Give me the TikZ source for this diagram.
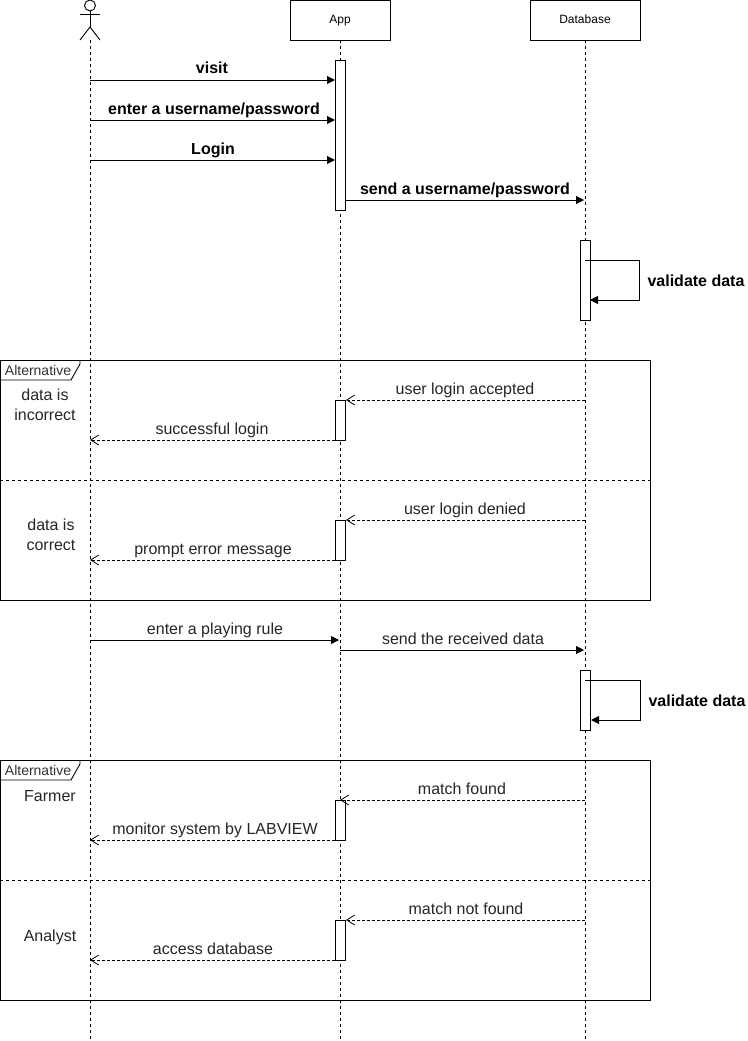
\documentclass[tikz,border=0pt]{standalone}
\usepackage{fontspec}
\setmainfont{Liberation Sans}
\usetikzlibrary{arrows.meta}
\tikzset{
  every path/.style={line width=0.9pt},
  lifeline/.style={densely dashed,dash pattern=on 3pt off 3pt},
  headbox/.style={draw,fill=white,minimum width=100pt,minimum height=40pt,inner sep=0pt,text height=9pt,text depth=2pt,font=\fontsize{12}{14}\selectfont},
  bar/.style={draw,fill=white,minimum width=10pt,inner sep=0pt},
  call/.style={-{Triangle[length=8pt,width=8pt]}},
  reply/.style={densely dashed,dash pattern=on 3pt off 2pt,-{Straight Barb[length=8pt,width=10pt,line width=0.8pt]}},
  txt/.style={font=\fontsize{16}{20}\selectfont,text=black!85,inner sep=0pt},
  lbl/.style={txt,text height=10pt,text depth=3pt,yshift=-2.5pt},
  boldlbl/.style={lbl,font=\fontsize{16}{20}\selectfont\bfseries,text=black},
  tagtxt/.style={font=\fontsize{14}{16}\selectfont,text=black!80,inner sep=0pt},
}
\begin{document}
\begin{tikzpicture}[x=1pt,y=-1pt]
  \useasboundingbox (0,0) rectangle (747,1041);

  % Alternative frames
  \draw (0,360) rectangle (650,600);
  \draw (0,760) rectangle (650,1000);
  \draw[lifeline] (0,480) -- (650,480);
  \draw[lifeline] (0,880) -- (650,880);
  \draw (0,380) -- (71,380) -- (80,364) -- (80,360);
  \draw (0,780) -- (71,780) -- (80,764) -- (80,760);
  \node[tagtxt] (tagA) at (38,370) {Alternative};
  \node[tagtxt] (tagB) at (38,770) {Alternative};

  % Actor
  \draw (90,5.5) circle (5.5);
  \draw (80,14) -- (100,14);
  \draw (90,11) -- (90,27);
  \draw (80,40) -- (90,27) -- (100,40);
  \coordinate (user) at (90,40);
  \coordinate (userEnd) at (90,1041);

  % Heads
  \node[headbox] (app) at (340,20) {App};
  \node[headbox,minimum width=110pt] (db) at (585,20) {Database};
  \coordinate (appEnd) at (340,1041);
  \coordinate (dbEnd) at (585,1041);

  % Lifelines
  \draw[lifeline] (user) -- (userEnd);
  \draw[lifeline] (app) -- (appEnd);
  \draw[lifeline] (db) -- (dbEnd);

  % Activation bars
  \node[bar,minimum height=150pt] (barLogin) at (340,135) {};
  \node[bar,minimum height=80pt] (barCheck) at (585,280) {};
  \node[bar,minimum height=40pt] (barOk) at (340,420) {};
  \node[bar,minimum height=40pt] (barDenied) at (340,540) {};
  \node[bar,minimum height=60pt] (barRule) at (585,700) {};
  \node[bar,minimum height=40pt] (barFarmer) at (340,820) {};
  \node[bar,minimum height=40pt] (barAnalyst) at (340,940) {};

  % End points of the messages
  \coordinate (visitA) at (90,80);       \coordinate (visitB) at (335,80);
  \coordinate (enterA) at (90,120);      \coordinate (enterB) at (335,120);
  \coordinate (loginA) at (90,160);      \coordinate (loginB) at (335,160);
  \coordinate (sendA) at (345,200);      \coordinate (sendB) at (584,200);
  \coordinate (acceptA) at (585,400);    \coordinate (acceptB) at (346,400);
  \coordinate (successA) at (335,440);   \coordinate (successB) at (90,440);
  \coordinate (deniedA) at (585,520);    \coordinate (deniedB) at (346,520);
  \coordinate (promptA) at (335,560);    \coordinate (promptB) at (90,560);
  \coordinate (ruleA) at (90,640);       \coordinate (ruleB) at (339,640);
  \coordinate (recvA) at (340,650);      \coordinate (recvB) at (584,650);
  \coordinate (foundA) at (585,800);     \coordinate (foundB) at (340,800);
  \coordinate (monitorA) at (335,840);   \coordinate (monitorB) at (90,840);
  \coordinate (nofindA) at (585,920);    \coordinate (nofindB) at (346,920);
  \coordinate (accessA) at (335,960);    \coordinate (accessB) at (90,960);

  % Messages
  \draw[call] (visitA) -- (visitB);
  \draw[call] (enterA) -- (enterB);
  \draw[call] (loginA) -- (loginB);
  \draw[call] (sendA) -- (sendB);
  \draw[call] (ruleA) -- (ruleB);
  \draw[call] (recvA) -- (recvB);
  \draw[reply] (acceptA) -- (acceptB);
  \draw[reply] (successA) -- (successB);
  \draw[reply] (deniedA) -- (deniedB);
  \draw[reply] (promptA) -- (promptB);
  \draw[reply] (foundA) -- (foundB);
  \draw[reply] (monitorA) -- (monitorB);
  \draw[reply] (nofindA) -- (nofindB);
  \draw[reply] (accessA) -- (accessB);

  % Self calls on the database
  \coordinate (checkA) at (585,260);  \coordinate (checkB) at (590,300);
  \coordinate (ruleCheckA) at (585,680);  \coordinate (ruleCheckB) at (591,720);
  \draw[call] (checkA) -- (639.5,260) -- (639.5,300) -- (checkB);
  \draw[call] (ruleCheckA) -- (640,680) -- (640,720) -- (ruleCheckB);

  % Labels
  \node[boldlbl] (visitTxt) at (212,68) {visit};
  \node[boldlbl] (enterTxt) at (214,108) {enter a username/password};
  \node[boldlbl] (loginTxt) at (213,148) {Login};
  \node[boldlbl] (sendTxt) at (465,188) {send a username/password};
  \node[boldlbl] (checkTxt) at (696,280) {validate data};
  \node[boldlbl] (ruleCheckTxt) at (697,700) {validate data};
  \node[lbl] (acceptTxt) at (465,388) {user login accepted};
  \node[lbl] (successTxt) at (212,428) {successful login};
  \node[lbl] (deniedTxt) at (465,508) {user login denied};
  \node[lbl] (promptTxt) at (213,548) {prompt error message};
  \node[lbl] (ruleTxt) at (215,628) {enter a playing rule};
  \node[lbl] (recvTxt) at (463,638) {send the received data};
  \node[lbl] (foundTxt) at (462,788) {match found};
  \node[lbl] (monitorTxt) at (215,828) {monitor system by LABVIEW};
  \node[lbl] (nofindTxt) at (466,908) {match not found};
  \node[lbl] (accessTxt) at (213,948) {access database};

  % Guards
  \node[txt,align=center] (guardA) at (45,405) {data is\\incorrect};
  \node[txt,align=center] (guardB) at (51,535) {data is\\correct};
  \node[lbl] (guardC) at (50,795) {Farmer};
  \node[lbl] (guardD) at (50,935) {Analyst};
\end{tikzpicture}
\end{document}
